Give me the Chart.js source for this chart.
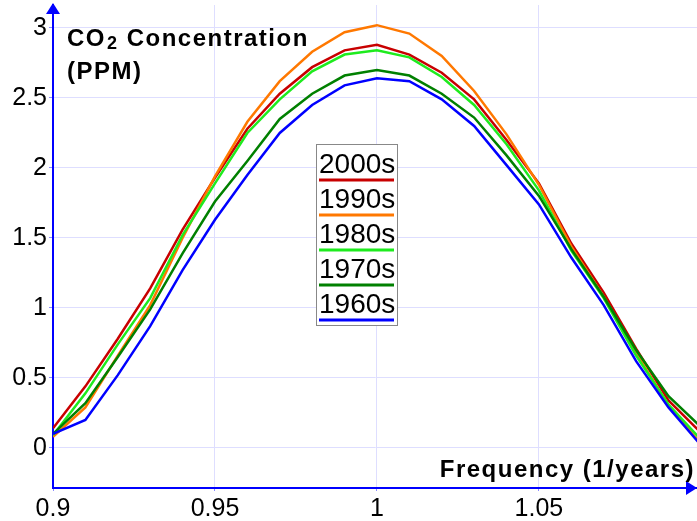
<!DOCTYPE html>
<html>
<head>
<meta charset="utf-8">
<script src="https://cdn.jsdelivr.net/npm/chart.js@4.4.0/dist/chart.umd.min.js"></script>
<style>
html, body { margin: 0; padding: 0; background: #fff; }
</style>
</head>
<body>
<canvas id="grafico_co2" width="697" height="521"></canvas>
<script>
// frecuencia (1/años)
const frecuencias = [0.90, 0.91, 0.92, 0.93, 0.94, 0.95, 0.96, 0.97, 0.98, 0.99, 1.00,
                     1.01, 1.02, 1.03, 1.04, 1.05, 1.06, 1.07, 1.08, 1.09, 1.10]

// concentracion CO2 (PPM) por decada
const decada2000 = [0.14, 0.44, 0.78, 1.14, 1.56, 1.93, 2.28, 2.53, 2.72, 2.84, 2.88,
                    2.81, 2.68, 2.49, 2.20, 1.89, 1.46, 1.11, 0.71, 0.34, 0.11]
const decada1990 = [0.08, 0.29, 0.66, 1.02, 1.50, 1.94, 2.33, 2.62, 2.83, 2.97, 3.02,
                    2.96, 2.80, 2.55, 2.24, 1.88, 1.44, 1.08, 0.68, 0.30, 0.03]
const decada1980 = [0.09, 0.39, 0.74, 1.07, 1.52, 1.89, 2.25, 2.49, 2.69, 2.81, 2.84,
                    2.79, 2.65, 2.45, 2.17, 1.84, 1.41, 1.07, 0.66, 0.31, 0.06]
const decada1970 = [0.10, 0.32, 0.65, 0.99, 1.39, 1.76, 2.05, 2.35, 2.53, 2.66, 2.70,
                    2.66, 2.53, 2.36, 2.09, 1.80, 1.42, 1.08, 0.70, 0.37, 0.15]
const decada1960 = [0.10, 0.20, 0.52, 0.87, 1.27, 1.63, 1.95, 2.25, 2.45, 2.59, 2.64,
                    2.62, 2.49, 2.30, 2.02, 1.74, 1.36, 1.02, 0.62, 0.29, 0.02]

const etiquetas = ['2000s', '1990s', '1980s', '1970s', '1960s']
const ticksX = [0.9, 0.95, 1, 1.05]
const ticksY = [0, 0.5, 1, 1.5, 2, 2.5, 3]

const colores = ['rgb(200,0,0)', 'rgb(255,120,0)', 'rgb(30,235,30)', 'rgb(0,128,0)', 'rgb(0,0,255)']
const series = [decada2000, decada1990, decada1980, decada1970, decada1960]

const puntos = (valores) => frecuencias.map((f, i) => ({ x: f, y: valores[i] }))

const datasets = series.map((valores, i) => ({
    label: etiquetas[i],
    data: puntos(valores),
    borderColor: colores[i],
    borderWidth: 2.5,
    pointRadius: 0,
    tension: 0,
    fill: false
})).reverse() // la decada mas reciente queda encima

const fijarTicks = (lista) => (scale) => {
    scale.ticks = lista.map(v => ({ value: v }))
}

// flechas, titulos de ejes y leyenda
const decoracion = {
    id: 'decoracion',
    afterDraw(chart) {
        const { ctx, chartArea } = chart
        const x0 = chartArea.left, y0 = chartArea.bottom
        ctx.save()
        ctx.fillStyle = 'rgb(0,0,255)'
        ctx.beginPath()
        ctx.moveTo(x0, 3); ctx.lineTo(x0 - 7, 14); ctx.lineTo(x0 + 7, 14); ctx.closePath(); ctx.fill()
        ctx.beginPath()
        ctx.moveTo(697, y0); ctx.lineTo(686, y0 - 7); ctx.lineTo(686, y0 + 7); ctx.closePath(); ctx.fill()

        ctx.fillStyle = '#000'
        ctx.textBaseline = 'alphabetic'
        ctx.letterSpacing = '1.5px'
        ctx.font = 'bold 24px "Liberation Sans", Arial, sans-serif'
        ctx.textAlign = 'left'
        ctx.fillText('CO', 67, 46)
        let w = ctx.measureText('CO').width
        ctx.font = 'bold 18px "Liberation Sans", Arial, sans-serif'
        ctx.fillText('2', 67 + w + 1, 49)
        let w2 = ctx.measureText('2').width
        ctx.font = 'bold 24px "Liberation Sans", Arial, sans-serif'
        ctx.fillText(' Concentration', 67 + w + w2 + 1, 46)
        ctx.fillText('(PPM)', 67, 79)
        ctx.textAlign = 'right'
        ctx.fillText('Frequency (1/years)', 695, 477)
        ctx.letterSpacing = '0px'

        // leyenda
        const bx = 316, by = 144, bw = 81, bh = 181
        ctx.fillStyle = '#fff'
        ctx.fillRect(bx, by, bw, bh)
        ctx.strokeStyle = '#888'
        ctx.lineWidth = 1
        ctx.strokeRect(bx + 0.5, by + 0.5, bw, bh)
        ctx.font = '28px "Liberation Sans", Arial, sans-serif'
        ctx.textAlign = 'left'
        etiquetas.forEach((et, i) => {
            ctx.fillStyle = '#000'
            ctx.fillText(et, 319, 173 + i * 35)
            ctx.strokeStyle = colores[i]
            ctx.lineWidth = 3
            ctx.beginPath()
            ctx.moveTo(319, 180 + i * 35)
            ctx.lineTo(394, 180 + i * 35)
            ctx.stroke()
        })
        ctx.restore()
    }
}

const fuenteTicks = { family: '"Liberation Sans", Arial, sans-serif', size: 25 }

const myChart = new Chart(document.getElementById('grafico_co2').getContext('2d'), {
    type: 'line',
    data: { datasets: datasets },
    options: {
        responsive: false,
        animation: false,
        devicePixelRatio: 1,
        layout: { padding: { top: 5, right: 0, left: 0, bottom: 0 } },
        plugins: { legend: { display: false }, tooltip: { enabled: false } },
        scales: {
            x: {
                type: 'linear',
                min: 0.9,
                max: 1.0988,
                afterBuildTicks: fijarTicks(ticksX),
                afterFit: (s) => { s.height = 33; s.paddingLeft = 0; s.paddingRight = 0 },
                ticks: { color: '#000', font: fuenteTicks, padding: 3, maxRotation: 0,
                         callback: (v) => String(+v.toFixed(2)) },
                grid: { color: 'rgb(222,222,255)', tickLength: 3, tickColor: 'rgb(140,140,255)' },
                border: { color: 'rgb(0,0,255)', width: 2 }
            },
            y: {
                min: -0.286,
                max: 3.164,
                afterBuildTicks: fijarTicks(ticksY),
                afterFit: (s) => { s.width = 53; s.paddingTop = 0; s.paddingBottom = 0 },
                ticks: { color: '#000', font: fuenteTicks, padding: 2,
                         callback: (v) => String(+v.toFixed(2)) },
                grid: { color: 'rgb(222,222,255)', tickLength: 4, tickColor: 'rgb(140,140,255)' },
                border: { color: 'rgb(0,0,255)', width: 2 }
            }
        }
    },
    plugins: [decoracion]
})
</script>
</body>
</html>
